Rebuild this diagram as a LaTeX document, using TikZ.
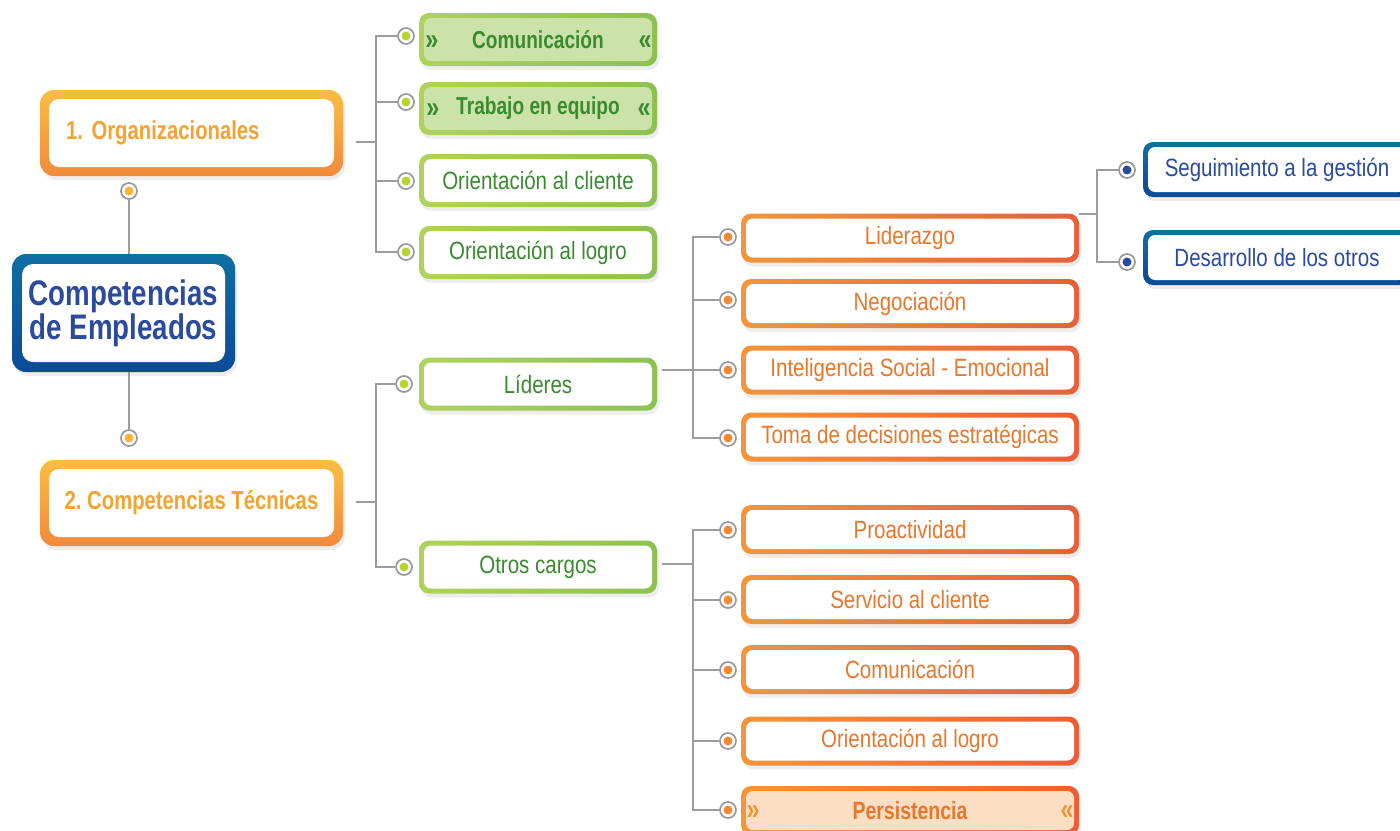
\documentclass[tikz,border=0pt]{standalone}
\usepackage{fontspec}
\setmainfont[FakeStretch=0.82,BoldFeatures={FakeStretch=0.78}]{Liberation Sans}
\usetikzlibrary{shadows}
\frenchspacing
\definecolor{lineg}{HTML}{9D9D9D}
\definecolor{ringg}{HTML}{9A9A9A}
\definecolor{blueT}{HTML}{0F6FA3}
\definecolor{blueB}{HTML}{0C4A98}
\definecolor{bluetext}{HTML}{2B4B9C}
\definecolor{yelT}{HTML}{FBBD42}
\definecolor{yelB}{HTML}{F28A3D}
\definecolor{yeltext}{HTML}{F3A331}
\definecolor{yeldot}{HTML}{FBB437}
\definecolor{greenL}{HTML}{B0D25C}
\definecolor{greenR}{HTML}{8CC152}
\definecolor{gfill}{HTML}{CBE2A8}
\definecolor{gtext}{HTML}{3A8B30}
\definecolor{gdot}{HTML}{B8D433}
\definecolor{orL}{HTML}{F4953A}
\definecolor{orR}{HTML}{EA5E38}
\definecolor{ortext}{HTML}{E8772B}
\definecolor{orfill}{HTML}{FCDEC5}
\definecolor{ordot}{HTML}{F18A36}
\definecolor{chev}{HTML}{F29433}
\tikzset{
  conn/.style={draw=lineg, line width=2pt},
  dotnode/.style={circle, draw=ringg, line width=1.7pt, fill=white, minimum size=16pt, inner sep=0pt,
    path picture={\fill[#1] (path picture bounding box.center) circle (4.5pt);}},
  inset/.style n args={3}{path picture={\fill[#2, rounded corners=#3]
      ([shift={(#1,#1)}]path picture bounding box.south west) rectangle
      ([shift={(-#1,-#1)}]path picture bounding box.north east);}},
  cbox/.style={rounded corners=10pt, inner sep=0pt, align=center,
    drop shadow={opacity=0.14, shadow xshift=2pt, shadow yshift=-4pt}},
  regfont/.style={font=\fontsize{25pt}{28pt}\selectfont},
  boldfont/.style={font=\bfseries\fontsize{24.5pt}{28pt}\selectfont},
  gbox/.style={cbox, minimum width=238pt, minimum height=53pt, left color=greenL, right color=greenR,
    inset={5pt}{white}{7pt}, text=gtext, regfont},
  gboxf/.style={gbox, inset={5pt}{gfill}{7pt}, boldfont},
  obox/.style={cbox, minimum width=338pt, minimum height=49pt, left color=orL, right color=orR,
    inset={5pt}{white}{7pt}, text=ortext, regfont},
  oboxf/.style={obox, inset={5pt}{orfill}{7pt}, font=\bfseries\fontsize{25pt}{28pt}\selectfont},
  bbox/.style={cbox, minimum width=268pt, minimum height=55pt, top color=blueT, bottom color=blueB,
    inset={5pt}{white}{7pt}, text=bluetext, regfont},
  ybox/.style={cbox, rounded corners=14pt, minimum width=303pt, minimum height=86pt,
    top color=yelT, bottom color=yelB, inset={9pt}{white}{10pt}, text=yeltext,
    font=\bfseries\fontsize{26pt}{30pt}\selectfont},
  mainbox/.style={cbox, rounded corners=14pt, minimum width=223pt, minimum height=118pt,
    top color=blueT, bottom color=blueB, inset={10pt}{white}{11pt}, text=bluetext,
    font=\bfseries\fontsize{35.5pt}{34pt}\selectfont},
  gchev/.style={text=gtext, font=\bfseries\fontsize{30pt}{30pt}\selectfont, inner sep=0pt},
  ochev/.style={text=chev, font=\bfseries\fontsize{30pt}{30pt}\selectfont, inner sep=0pt},
}
\begin{document}
\begin{tikzpicture}[x=1pt, y=-1pt]
\useasboundingbox (0,0) rectangle (1400,830);

% main nodes
\node[mainbox] (main) at (123.5,313) {Competencias\\de Empleados};
\node[ybox, text width=251pt, align=left] (org) at (191.5,133) {1. Organizacionales};
\node[ybox] (tec) at (191.5,503) {2. Competencias Técnicas};
\node[dotnode=yeldot] (d0) at (129,191) {};
\node[dotnode=yeldot] (d1) at (129,438) {};
\draw[conn] (d0.south) -- (d0.south |- main.north);
\draw[conn] (main.south -| d1.north) -- (d1.north);

% organizacionales branch
\node[gboxf] (g1b) at (538,39.5) {Comunicación};
\node[gboxf] (g2b) at (538,108.5) {Trabajo en equipo};
\node[gbox] (g3b) at (538,180.5) {Orientación al cliente};
\node[gbox] (g4b) at (538,252.5) {Orientación al logro};
\node[gchev] (ch1) at (432,43) {»};
\node[gchev] (ch2) at (645,43) {«};
\node[gchev] (ch3) at (433,111) {»};
\node[gchev] (ch4) at (644,111) {«};
\node[dotnode=gdot] (g1) at (406,36) {};
\node[dotnode=gdot] (g2) at (406,102) {};
\node[dotnode=gdot] (g3) at (406,181) {};
\node[dotnode=gdot] (g4) at (406,252) {};
\coordinate (os) at (356,142);
\coordinate (bo) at (376,142);
\draw[conn] (os) -- (bo);
\foreach \k in {g1,g2,g3,g4} {\draw[conn] (bo) |- (\k.west);}

% tecnicas branch
\node[gbox] (lid) at (538,384) {Líderes};
\node[gbox] (otr) at (538,567) {Otros cargos};
\node[dotnode=gdot] (t1) at (404,384) {};
\node[dotnode=gdot] (t2) at (404,567) {};
\coordinate (ts) at (356,502);
\coordinate (bt) at (376,502);
\draw[conn] (ts) -- (bt);
\draw[conn] (bt) |- (t1.west);
\draw[conn] (bt) |- (t2.west);

% lideres children
\node[obox] (o1b) at (910,238) {Liderazgo};
\node[obox] (o2b) at (910,303.5) {Negociación};
\node[obox] (o3b) at (910,370) {Inteligencia Social - Emocional};
\node[obox] (o4b) at (910,437) {Toma de decisiones estratégicas};
\node[dotnode=ordot] (o1) at (728,237) {};
\node[dotnode=ordot] (o2) at (728,300) {};
\node[dotnode=ordot] (o3) at (728,370) {};
\node[dotnode=ordot] (o4) at (728,438) {};
\coordinate (ls) at (662,370);
\coordinate (lb) at (693,370);
\draw[conn] (ls) -- (lb);
\foreach \k in {o1,o2,o3,o4} {\draw[conn] (lb) |- (\k.west);}

% otros cargos children
\node[obox] (p1b) at (910,529.5) {Proactividad};
\node[obox] (p2b) at (910,599.5) {Servicio al cliente};
\node[obox] (p3b) at (910,669.5) {Comunicación};
\node[obox] (p4b) at (910,741) {Orientación al logro};
\node[oboxf] (p5b) at (910,810.5) {Persistencia};
\node[ochev] (ch5) at (753,813) {»};
\node[ochev] (ch6) at (1067,813) {«};
\node[dotnode=ordot] (p1) at (728,530) {};
\node[dotnode=ordot] (p2) at (728,600) {};
\node[dotnode=ordot] (p3) at (728,670) {};
\node[dotnode=ordot] (p4) at (728,741) {};
\node[dotnode=ordot] (p5) at (728,810) {};
\coordinate (cs) at (662,564);
\coordinate (cb) at (693,564);
\draw[conn] (cs) -- (cb);
\foreach \k in {p1,p2,p3,p4,p5} {\draw[conn] (cb) |- (\k.west);}

% liderazgo children
\node[bbox] (q1b) at (1277,169.5) {Seguimiento a la gestión};
\node[bbox] (q2b) at (1277,257.5) {Desarrollo de los otros};
\node[dotnode=bluetext] (q1) at (1127,170) {};
\node[dotnode=bluetext] (q2) at (1127,262) {};
\coordinate (qs) at (1079,214);
\coordinate (qb) at (1097,214);
\draw[conn] (qs) -- (qb);
\draw[conn] (qb) |- (q1.west);
\draw[conn] (qb) |- (q2.west);
\end{tikzpicture}
\end{document}
